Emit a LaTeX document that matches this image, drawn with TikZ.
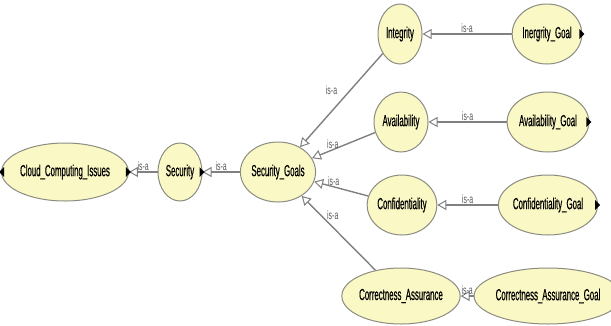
\documentclass[tikz,border=0pt]{standalone}
\usepackage{fontspec}
\newfontfamily\ontofont[FakeStretch=0.49, FakeBold=0.5]{Liberation Sans}
\newfontfamily\labelfont[FakeStretch=0.58]{Liberation Sans}
\usetikzlibrary{arrows.meta, shapes.geometric}

\definecolor{classfill}{RGB}{250,248,196}
\definecolor{classline}{RGB}{140,140,130}
\definecolor{edgegray}{RGB}{128,128,128}
\definecolor{labelgray}{RGB}{90,90,90}

\tikzset{
  cls/.style={ellipse, draw=classline, fill=classfill, line width=1pt,
    inner sep=0pt, font=\ontofont\fontsize{16}{18}\selectfont, text=black},
  isaedge/.style={draw=edgegray, line width=1.4pt,
    -{Triangle[open, length=9pt, width=10pt, line width=1pt]}},
  isalabel/.style={font=\labelfont\fontsize{12}{13}\selectfont, text=labelgray,
    inner sep=0.6pt}
}

% small black markers on the rim of collapsible nodes
\newcommand{\expright}[1]{\fill[black] ([xshift=2pt]#1.east) -- ++(-5,-5) -- ++(0,10) -- cycle;}
\newcommand{\expleft}[1]{\fill[black] ([xshift=-2pt]#1.west) -- ++(5,-5) -- ++(0,10) -- cycle;}

\begin{document}
\begin{tikzpicture}[x=1pt, y=-1pt]
\useasboundingbox[fill=white] (0,0) rectangle (611,325);

% class nodes
\node[cls, minimum width=104pt, minimum height=58pt] (cloud) at (65,172) {Cloud\_Computing\_Issues};
\node[cls, minimum width=44pt,  minimum height=58pt] (sec)   at (180,172) {Security};
\node[cls, minimum width=68pt,  minimum height=60pt] (goals) at (278,172) {Security\_Goals};

\node[cls, minimum width=44pt,  minimum height=60pt] (integ) at (400,34)  {Integrity};
\node[cls, minimum width=54pt,  minimum height=60pt] (avail) at (401,122) {Availability};
\node[cls, minimum width=66pt,  minimum height=60pt] (conf)  at (402,205) {Confidentiality};
\node[cls, minimum width=97pt,  minimum height=56pt] (corr)  at (401,296) {Correctness\_Assurance};

\node[cls, minimum width=62pt,  minimum height=60pt] (integG) at (547,34)  {Inergrity\_Goal};
\node[cls, minimum width=74pt,  minimum height=60pt] (availG) at (548,122) {Availability\_Goal};
\node[cls, minimum width=84pt,  minimum height=60pt] (confG)  at (548,205) {Confidentiality\_Goal};
\node[cls, minimum width=111pt, minimum height=56pt] (corrG)  at (548,296) {Correctness\_Assurance\_Goal};

% is-a edges
\draw[isaedge] (sec) -- (cloud) node[isalabel, midway, above] {is-a};
\draw[isaedge] (goals) -- (sec) node[isalabel, midway, above] {is-a};

\draw[isaedge] (integ) -- (goals) node[isalabel, pos=0.39, anchor=east, xshift=-12pt] {is-a};
\draw[isaedge] (avail) -- (goals) node[isalabel, pos=0.67, anchor=south] {is-a};
\draw[isaedge] (conf)  -- (goals) node[isalabel, pos=0.64, anchor=south] {is-a};
\draw[isaedge] (corr)  -- (goals) node[isalabel, pos=0.74, anchor=west, xshift=5pt] {is-a};

\draw[isaedge] (integG) -- (integ) node[isalabel, midway, above] {is-a};
\draw[isaedge] (availG) -- (avail) node[isalabel, midway, above] {is-a};
\draw[isaedge] (confG)  -- (conf)  node[isalabel, midway, above] {is-a};
\draw[isaedge] (corrG)  -- (corr)  node[isalabel, midway, above] {is-a};

% expansion markers
\expleft{cloud}
\expright{cloud}
\expright{sec}
\expright{integG}
\expright{availG}
\expright{confG}
\expright{corrG}
\end{tikzpicture}
\end{document}
